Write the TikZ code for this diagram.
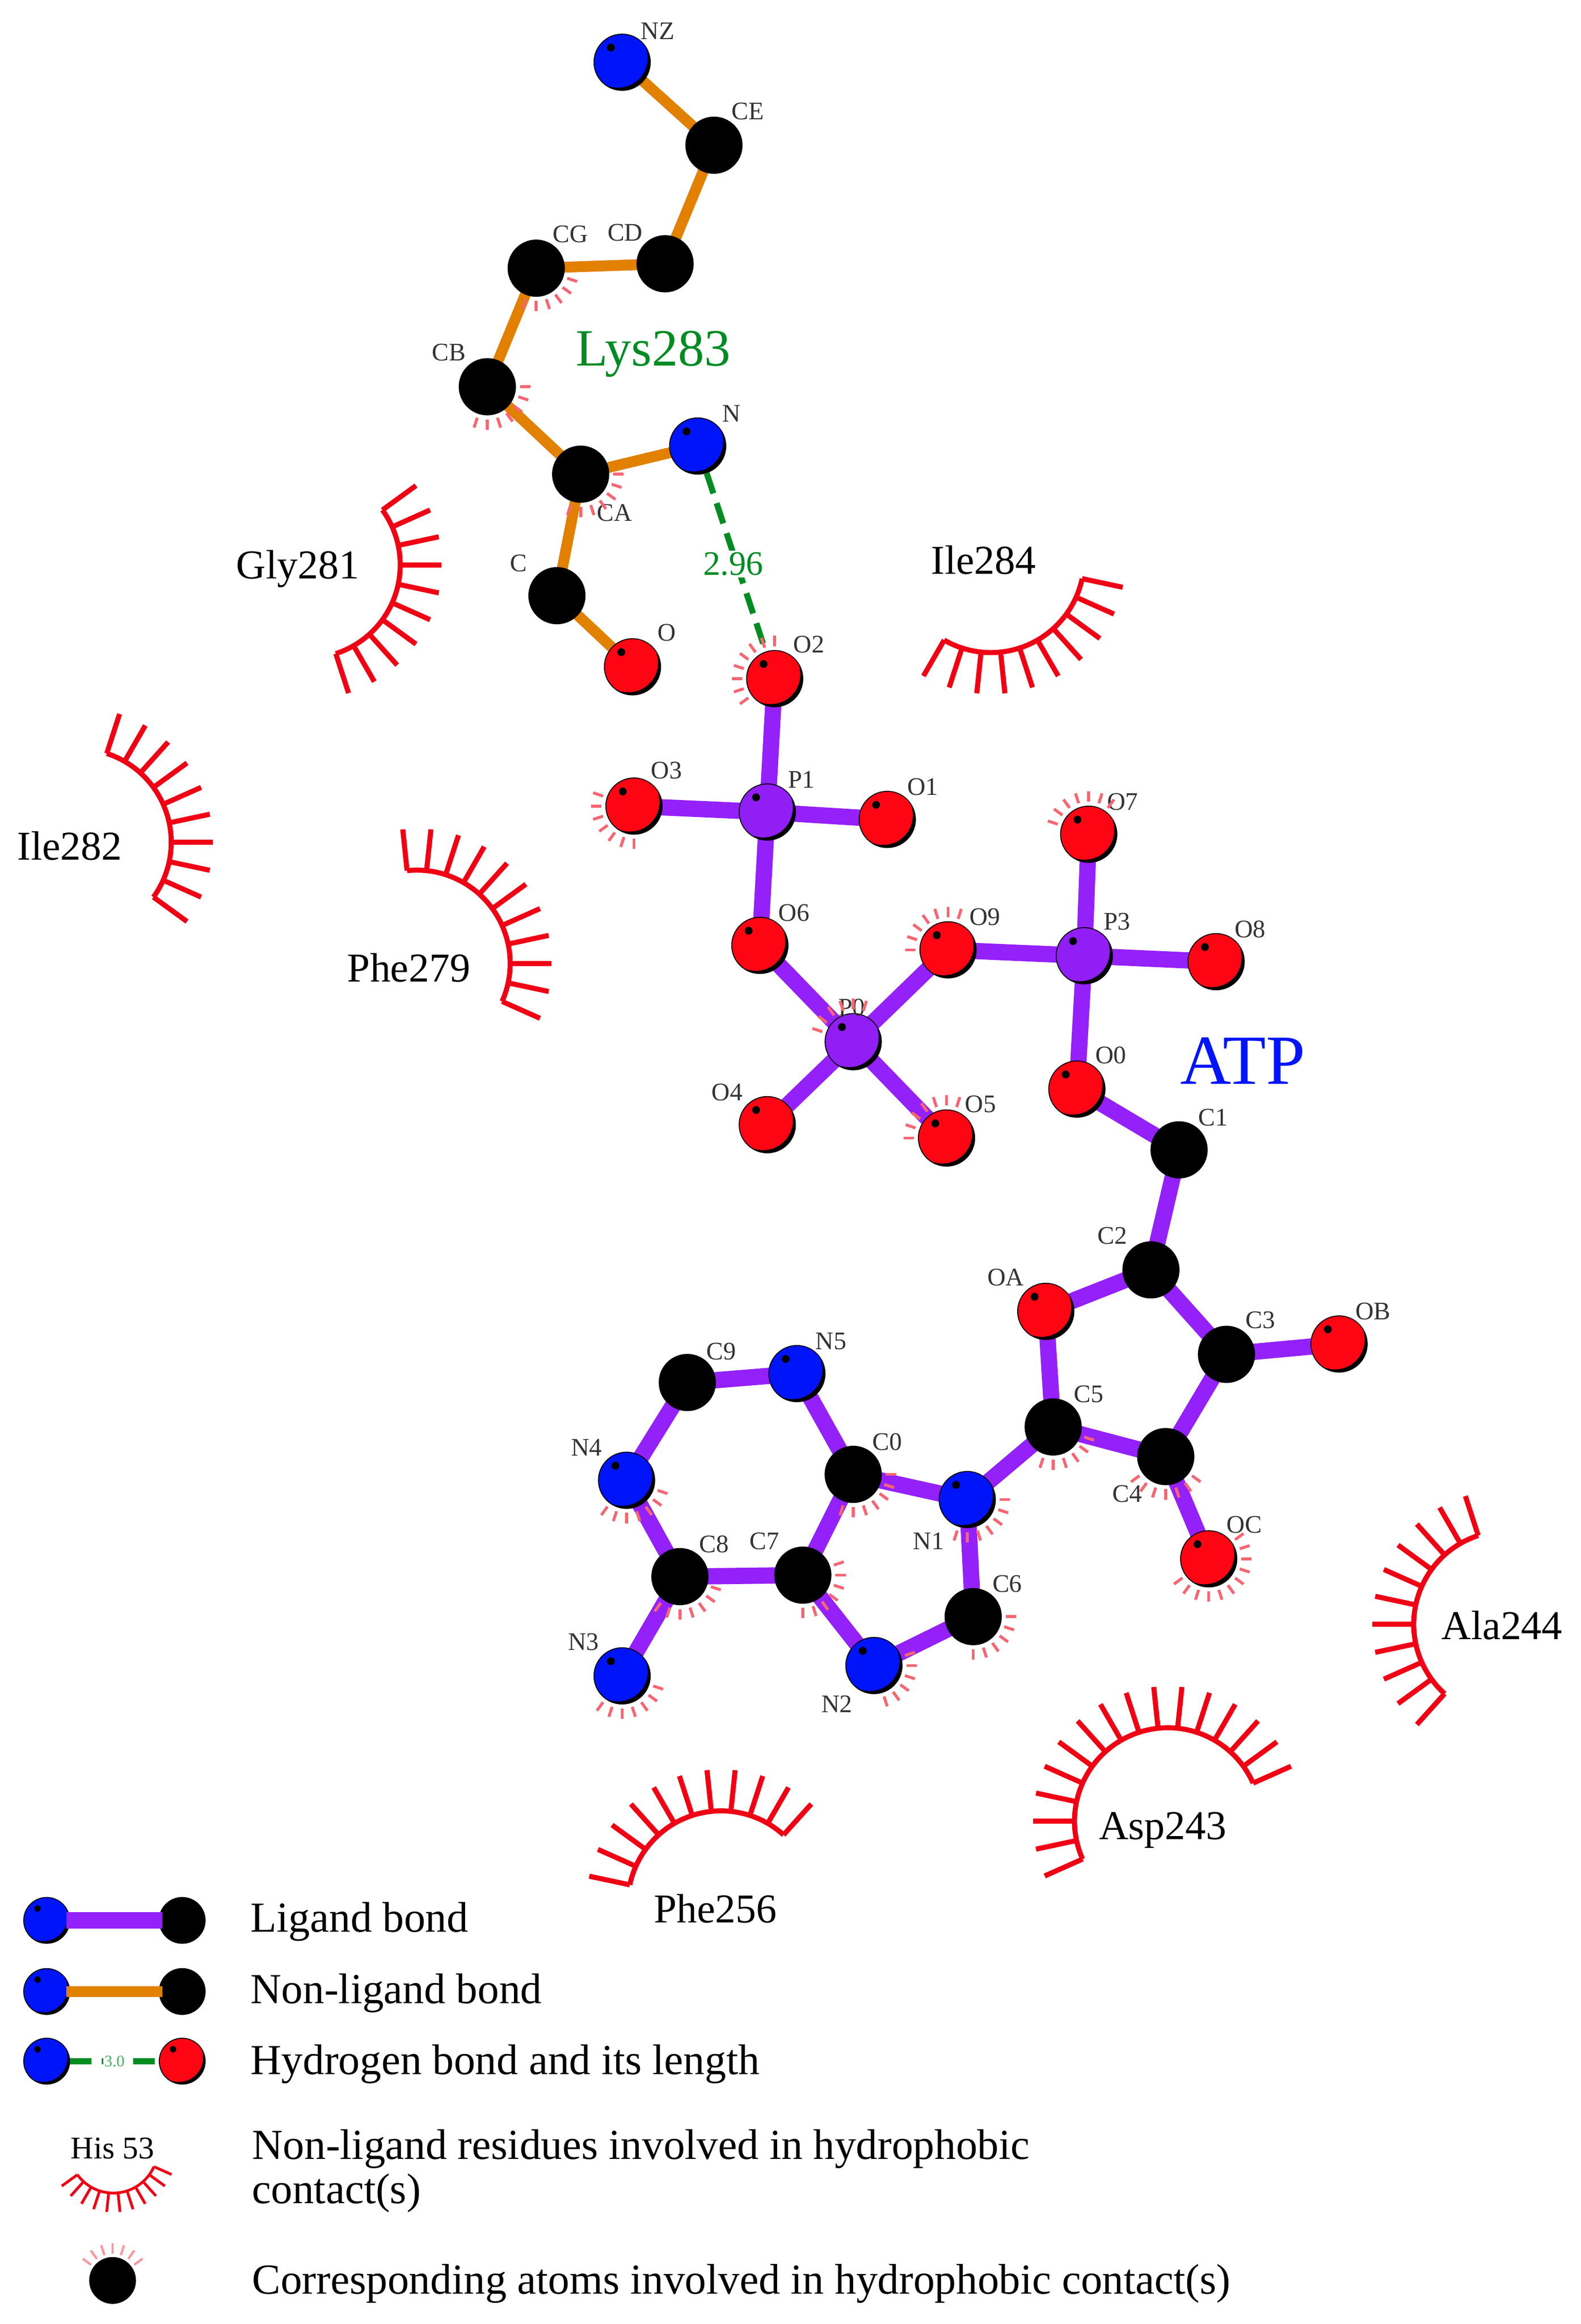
\documentclass[tikz,border=0pt]{standalone}
\usepackage{fontspec}
\setmainfont{Liberation Serif}
\usetikzlibrary{calc}
\usetikzlibrary{backgrounds}

\definecolor{ligcol}{RGB}{148,32,250}
\definecolor{nonligcol}{RGB}{226,128,0}
\definecolor{hbcol}{RGB}{0,140,35}
\definecolor{nitcol}{RGB}{0,20,250}
\definecolor{oxycol}{RGB}{255,5,20}
\definecolor{phocol}{RGB}{145,30,245}
\definecolor{hydcol}{RGB}{240,0,20}

\tikzset{
	atom/.style 2 args={
		circle, fill=black, draw=black, line width=.5pt, inner sep=0pt, minimum size=#2*.2882mm,
		path picture={
			\fill[#1] ($(path picture bounding box.center)+(-.075*#2,.075*#2)$) circle ({.527*#2});
			\fill[black] ($(path picture bounding box.center)+(-.2*#2,.26*#2)$) circle ({.07*#2});
		}
	},
	atomlab/.style={font=\fontsize{14}{14}\selectfont, text=black!80, inner sep=0pt},
	reslab/.style={font=\fontsize{22.7}{22.7}\selectfont, inner sep=0pt},
	leglab/.style={font=\fontsize{23.7}{24.5}\selectfont, inner sep=0pt, anchor=west, align=left},
	ligbond/.style={ligcol, line width=9pt, shorten <=-2pt, shorten >=-2pt},
	nonligbond/.style={nonligcol, line width=6pt, shorten <=-2pt, shorten >=-2pt},
	hbond/.style={hbcol, line width=3.3pt, dash pattern=on 11.8pt off 5.7pt},
	smalltick/.style={hydcol!60, line width=1.6pt},
	hydarc/.style={hydcol, line width=2.8pt, line join=miter}
}

% contact ticks round an atom: atom, first angle, last angle
\newcommand{\atomticks}[3]{
	\pgfmathsetmacro{\nextang}{#2+18}
	\foreach \ang in {#2,\nextang,...,#3} {
		\draw[smalltick] ($(#1)+(\ang:22)$) -- ($(#1)+(\ang:29)$);
	}
}
% residue arc: centre, radius, spoke length, first angle, last angle
\newcommand{\hydroarc}[5]{
	\pgfmathsetmacro{\nextang}{#4+12}
	\draw[hydarc] ($(#1)+(#4:#2)$) arc[start angle=#4, end angle=#5, radius=#2];
	\foreach \ang in {#4,\nextang,...,#5} {
		\draw[hydarc] ($(#1)+(\ang:#2)$) -- ($(#1)+(\ang:#2+#3)$);
	}
}

\begin{document}
\begin{tikzpicture}[x=.2882mm, y=.2882mm]
	\useasboundingbox (0,0) rectangle (1067,-1568.4);

	% atoms
	\foreach \n/\x/\y/\c in {
		NZ/420/42/nitcol, CE/482/98/black, CD/449/178/black, CG/362/181/black, CB/329/261/black,
		CA/392/320/black, N/471/301/nitcol, C/376/402/black, O/427/450/oxycol,
		O2/523/458/oxycol, P1/518/548/phocol, O3/428/544/oxycol, O1/599/553/oxycol, O6/513/638/oxycol,
		P0/576/703/phocol, O9/640/641/oxycol, O4/518/759/oxycol, O5/639/768/oxycol,
		P3/732/645/phocol, O7/735/563/oxycol, O8/821/649/oxycol, O0/727/735/oxycol,
		C1/796/776/black, C2/777/857/black, OA/706/885/oxycol, C3/828/914/black, OB/904/907/oxycol,
		C4/787/983/black, C5/711/963/black, OC/816/1052/oxycol, N1/653/1012/nitcol, C0/576/995/black,
		N5/538/927/nitcol, C9/464/933/black, N4/423/999/nitcol, C8/459/1064/black, C7/542/1063/black,
		N3/420/1131/nitcol, N2/590/1124/nitcol, C6/657/1091/black} {
		\node[atom={\c}{38}] (\n) at (\x,-\y) {};
	}

	% atom labels
	\foreach \n/\x/\y in {
		NZ/444/21, CE/505/75, CD/422/157, CG/385/158, CB/303/238, N/494/279, CA/415/346, C/350/380,
		O/450/427, O2/546/435, O3/450/520, P1/541/526, O1/623/531, O6/536/616, P0/575/680, O9/665/619,
		P3/754/622, O7/758/541, O8/844/627, O0/750/712, O4/491/737, O5/662/745, C1/819/754, C2/751/834,
		OA/679/862, C3/851/891, OB/927/885, C5/735/941, C9/487/912, N5/561/905, C0/599/973, N4/396/977,
		C8/482/1042, C7/516/1040, N1/627/1040, C4/761/1008, OC/840/1029, C6/680/1069, N3/394/1108, N2/565/1150} {
		\node[atomlab] (\n-lab) at (\x,-\y) {\n};
	}

	\begin{scope}[on background layer]
		\foreach \a/\b in {NZ/CE, CE/CD, CD/CG, CG/CB, CB/CA, CA/N, CA/C, C/O} {
			\draw[nonligbond] (\a) -- (\b);
		}
		\foreach \a/\b in {
			O2/P1, P1/O3, P1/O1, P1/O6, O6/P0, P0/O9, P0/O4, P0/O5, O9/P3, P3/O7, P3/O8, P3/O0,
			O0/C1, C1/C2, C2/OA, C2/C3, C3/OB, C3/C4, C4/C5, C5/OA, C4/OC, C5/N1, N1/C0, N1/C6,
			C6/N2, N2/C7, C7/C0, C0/N5, N5/C9, C9/N4, N4/C8, C8/C7, C8/N3} {
			\draw[ligbond] (\a) -- (\b);
		}
	\end{scope}

	% hydrogen bond
	\draw[hbond] (N) -- (O2) node[pos=.51, xshift=-.7mm, fill=white, inner sep=1pt, text=hbcol, font=\fontsize{19}{19}\selectfont] (hb-len) {2.96};

	% contact ticks
	\foreach \n/\s/\e in {
		CG/-108/-18, CB/-108/0, CA/-108/0, O2/90/216, O3/162/270, P0/72/162, O9/72/180, O5/72/180, O7/54/162,
		C5/-108/-18, C4/-144/-36, OC/-144/36, N1/-108/0, C0/-108/0, C6/-90/0, N2/-72/18, C7/-90/18,
		C8/-126/-18, N4/-126/-18, N3/-126/-18} {
		\atomticks{\n}{\s}{\e}
	}

	% residues
	\foreach \cx/\cy/\s/\e in {
		207.2/381.2/-72/36, 52.6/568.4/-36/72, 281.4/650.2/-24/96, 668.9/377.4/240/348,
		486.8/1285.1/48/168, 788.4/1229/24/204, 1017.4/1096.2/108/228} {
		\hydroarc{\cx,-\cy}{63}{28}{\s}{\e}
	}

	\node[reslab, text=hbcol, font=\fontsize{29}{29}\selectfont] (lys) at (441,-239) {Lys283};
	\node[reslab, text=nitcol, font=\fontsize{39}{39}\selectfont] (atp) at (839,-716) {ATP};
	\foreach \n/\x/\y in {Gly281/201/384, Ile284/664/378, Ile282/47/571, Phe279/276/653, Ala244/1014/1097, Asp243/785/1235, Phe256/483/1288} {
		\node[reslab] (\n) at (\x,-\y) {\n};
	}

	% legend
	\node[atom={nitcol}{31}] (leg-a1) at (31.5,-1296) {};
	\node[atom={black}{31}] (leg-b1) at (123,-1296) {};
	\node[atom={nitcol}{31}] (leg-a2) at (31.5,-1344) {};
	\node[atom={black}{31}] (leg-b2) at (123,-1344) {};
	\node[atom={nitcol}{31}] (leg-a3) at (31.5,-1391) {};
	\node[atom={oxycol}{31}] (leg-b3) at (123,-1391) {};
	\draw[ligbond] (leg-a1) -- (leg-b1);
	\draw[nonligbond] (leg-a2) -- (leg-b2);
	\draw[hbond] (leg-a3) -- (leg-b3) node[midway, fill=white, inner sep=.5pt, text=hbcol!70, font=\fontsize{9}{9}\selectfont] (leg-len) {3.0};

	\node[leglab] (leg-t1) at (169,-1297) {Ligand bond};
	\node[leglab] (leg-t2) at (169,-1345) {Non-ligand bond};
	\node[leglab] (leg-t3) at (169,-1393) {Hydrogen bond and its length};
	\node[leglab] (leg-t4) at (170,-1465) {Non-ligand residues involved in hydrophobic\\contact(s)};
	\node[leglab] (leg-t5) at (170,-1541) {Corresponding atoms involved in hydrophobic contact(s)};

	\node[inner sep=0pt, font=\fontsize{17.5}{17.5}\selectfont] (leg-his) at (76,-1450) {His 53};
	\draw[hydcol, line width=1.5pt] ($(76.5,-1450)+(216:30)$) arc[start angle=216, end angle=336, radius=30];
	\foreach \ang in {216,228,...,336} {
		\draw[hydcol, line width=1.5pt] ($(76.5,-1450)+(\ang:30)$) -- ($(76.5,-1450)+(\ang:43)$);
	}
	\node[atom={black}{31}] (leg-c) at (76,-1539) {};
	\foreach \ang in {36,54,...,144} {
		\draw[hydcol!40, line width=1.3pt] ($(leg-c)+(\ang:18)$) -- ($(leg-c)+(\ang:25)$);
	}
\end{tikzpicture}
\end{document}
